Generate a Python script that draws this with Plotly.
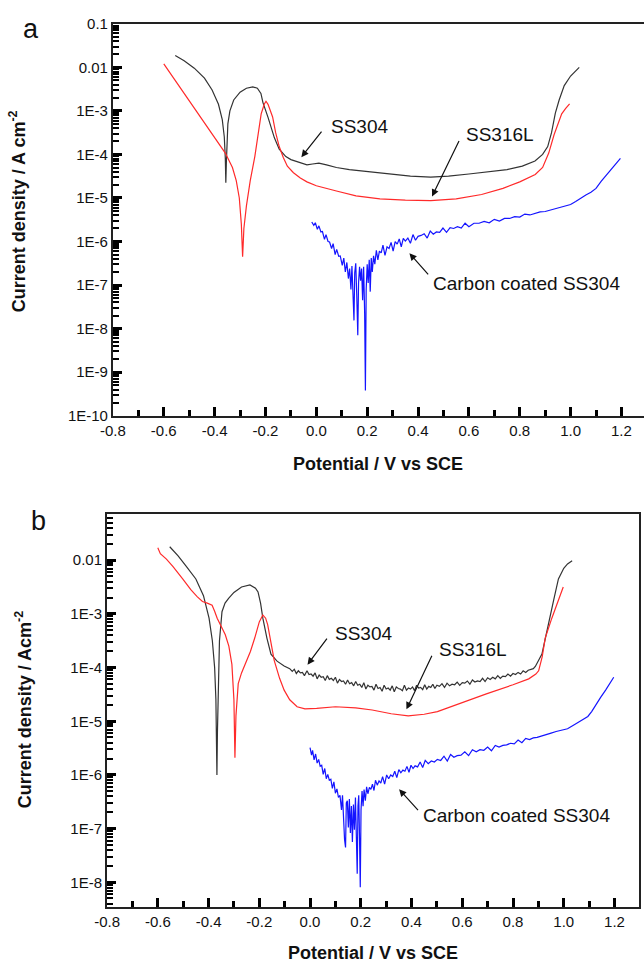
import plotly.graph_objects as go

# ---------------- Panel a : potentiodynamic polarization curves ----------------
# potentials in V vs SCE, current densities stored as log10(A cm^-2)
ss304_a_E = [-0.555, -0.52, -0.48, -0.44, -0.41, -0.385, -0.37, -0.362, -0.358, -0.356,
             -0.354, -0.352, -0.348, -0.34, -0.325, -0.30, -0.275, -0.25, -0.232, -0.218,
             -0.21, -0.19, -0.178, -0.165, -0.146, -0.12, -0.10, -0.063, -0.037, -0.015,
             0.01, 0.04, 0.079, 0.13, 0.22, 0.30, 0.37, 0.45, 0.52, 0.60,
             0.68, 0.75, 0.81, 0.86, 0.89, 0.91, 0.925, 0.94, 0.955, 0.975,
             1.0, 1.034]
ss304_a_logj = [-1.73, -1.85, -2.02, -2.25, -2.52, -2.85, -3.2, -3.6, -4.1, -4.65,
                -4.2, -3.7, -3.3, -3.0, -2.75, -2.57, -2.48, -2.45, -2.48, -2.6,
                -2.81, -3.15, -3.37, -3.62, -3.88, -4.05, -4.12, -4.2, -4.24, -4.22,
                -4.2, -4.24, -4.3, -4.35, -4.4, -4.45, -4.5, -4.52, -4.5, -4.45,
                -4.4, -4.35, -4.27, -4.15, -4.0, -3.82, -3.5, -3.05, -2.75, -2.42,
                -2.2, -2.0]

ss316l_a_E = [-0.60, -0.48, -0.358, -0.33, -0.315, -0.303, -0.295, -0.29, -0.285, -0.275,
              -0.26, -0.242, -0.228, -0.217, -0.205, -0.198, -0.19, -0.172, -0.16, -0.146,
              -0.13, -0.114, -0.09, -0.063, -0.037, 0.0, 0.079, 0.156, 0.25, 0.35,
              0.45, 0.55, 0.65, 0.734, 0.80, 0.861, 0.89, 0.914, 0.935, 0.95,
              0.965, 0.98, 0.996]
ss316l_a_logj = [-1.92, -2.94, -3.97, -4.3, -4.6, -5.0, -5.6, -6.35, -5.7, -5.18,
                 -4.6, -4.05, -3.5, -3.07, -2.85, -2.78, -2.85, -3.14, -3.5, -3.82,
                 -4.07, -4.27, -4.42, -4.54, -4.63, -4.72, -4.84, -4.95, -5.02, -5.05,
                 -5.06, -5.02, -4.92, -4.78, -4.63, -4.46, -4.3, -3.97, -3.55, -3.3,
                 -3.07, -2.95, -2.84]

carbon_a_E = [-0.018, -0.010, -0.004, 0.004, 0.010, 0.018, 0.024, 0.032, 0.038, 0.046,
              0.052, 0.060, 0.066, 0.074, 0.080, 0.088, 0.094, 0.102, 0.108, 0.114,
              0.120, 0.126, 0.131, 0.136, 0.140, 0.144, 0.148, 0.151, 0.155, 0.159,
              0.163, 0.166, 0.170, 0.174, 0.178, 0.182, 0.186, 0.190, 0.193, 0.196,
              0.200, 0.204, 0.208, 0.212, 0.216, 0.220, 0.225, 0.230, 0.236, 0.242,
              0.248, 0.255, 0.262, 0.270, 0.278, 0.286, 0.294, 0.302, 0.310, 0.318,
              0.326, 0.334, 0.342, 0.350, 0.360, 0.370, 0.380, 0.390, 0.400, 0.412,
              0.424, 0.436, 0.448, 0.460, 0.472, 0.485, 0.498, 0.512, 0.526, 0.540,
              0.555, 0.570, 0.585, 0.600, 0.620, 0.640, 0.660, 0.680, 0.700, 0.720,
              0.740, 0.760, 0.780, 0.800, 0.820, 0.840, 0.860, 0.880, 0.900, 0.920,
              0.940, 0.960, 0.980, 1.000, 1.020, 1.040, 1.060, 1.080, 1.100, 1.120,
              1.140, 1.160, 1.180, 1.196]
carbon_a_logj = [-5.55, -5.63, -5.57, -5.72, -5.64, -5.78, -5.77, -5.95, -5.84, -6.00,
                 -6.01, -6.16, -6.05, -6.30, -6.18, -6.34, -6.33, -6.55, -6.38, -6.70,
                 -6.48, -6.85, -6.62, -7.10, -6.56, -7.45, -7.81, -6.72, -6.50, -7.25,
                 -8.15, -6.95, -6.58, -6.90, -6.62, -7.35, -6.58, -7.65, -9.42, -7.10,
                 -6.52, -6.95, -6.42, -7.15, -6.38, -6.70, -6.33, -6.52, -6.20, -6.42,
                 -6.22, -6.26, -6.08, -6.32, -6.12, -6.16, -6.02, -6.22, -6.00, -6.06,
                 -5.94, -6.12, -5.93, -5.99, -5.92, -6.04, -5.84, -5.97, -5.88, -5.86,
                 -5.82, -5.92, -5.76, -5.83, -5.78, -5.79, -5.69, -5.79, -5.68, -5.70,
                 -5.66, -5.69, -5.58, -5.66, -5.58, -5.58, -5.54, -5.57, -5.49, -5.53,
                 -5.47, -5.47, -5.43, -5.44, -5.37, -5.39, -5.35, -5.32, -5.31, -5.28,
                 -5.25, -5.22, -5.19, -5.15, -5.08, -5.00, -4.93, -4.87, -4.78, -4.62,
                 -4.48, -4.33, -4.19, -4.09]

# ---------------- Panel b ----------------
ss304_b_E = [-0.553, -0.52, -0.49, -0.45, -0.42, -0.398, -0.385, -0.376, -0.371, -0.368,
             -0.367, -0.365, -0.362, -0.357, -0.347, -0.335, -0.321, -0.30, -0.27, -0.237,
             -0.215, -0.205, -0.195, -0.186, -0.17, -0.154, -0.13, -0.102,
             -0.08, -0.07, -0.062, -0.054, -0.046, -0.038, -0.030, -0.022, -0.012, -0.004,
             0.004, 0.012, 0.020, 0.028, 0.036, 0.044, 0.052, 0.060, 0.068, 0.076,
             0.084, 0.092, 0.100, 0.108, 0.116, 0.124, 0.132, 0.140, 0.148, 0.156,
             0.164, 0.172, 0.180, 0.188, 0.196, 0.204, 0.212, 0.220, 0.228, 0.236,
             0.244, 0.252, 0.260, 0.268, 0.276, 0.284, 0.292, 0.300, 0.308, 0.316,
             0.324, 0.332, 0.340, 0.348, 0.356, 0.364, 0.372, 0.380, 0.388, 0.396,
             0.404, 0.412, 0.420, 0.428, 0.436, 0.444, 0.452, 0.460, 0.468, 0.476,
             0.484, 0.492, 0.500, 0.510, 0.520, 0.530, 0.540, 0.550, 0.560, 0.570,
             0.580, 0.590, 0.600, 0.610, 0.620, 0.630, 0.640, 0.650, 0.660, 0.670,
             0.680, 0.690, 0.700, 0.710, 0.720, 0.730, 0.740, 0.750, 0.760, 0.770,
             0.780, 0.790, 0.800, 0.810, 0.820, 0.830, 0.840, 0.850, 0.860, 0.870,
             0.880, 0.888, 0.900, 0.914, 0.930, 0.946, 0.960, 0.979, 1.000, 1.015,
             1.033]
ss304_b_logj = [-1.75, -1.92, -2.1, -2.35, -2.66, -3.08, -3.5, -4.0, -4.6, -5.3,
                -6.0, -5.2, -4.2, -3.5, -2.96, -2.8, -2.71, -2.6, -2.5, -2.46,
                -2.52, -2.59, -2.8, -3.08, -3.45, -3.75, -3.88, -3.97,
                -4.02, -4.07, -4.03, -4.11, -4.06, -4.10, -4.09, -4.15, -4.06, -4.13,
                -4.12, -4.16, -4.10, -4.21, -4.14, -4.18, -4.17, -4.24, -4.15, -4.22,
                -4.20, -4.24, -4.18, -4.29, -4.22, -4.26, -4.25, -4.31, -4.23, -4.30,
                -4.28, -4.34, -4.26, -4.33, -4.31, -4.37, -4.28, -4.40, -4.33, -4.36,
                -4.35, -4.42, -4.31, -4.39, -4.37, -4.44, -4.33, -4.40, -4.38, -4.42,
                -4.34, -4.45, -4.36, -4.39, -4.40, -4.43, -4.33, -4.42, -4.38, -4.40,
                -4.36, -4.43, -4.33, -4.38, -4.37, -4.41, -4.32, -4.40, -4.35, -4.37,
                -4.31, -4.39, -4.33, -4.35, -4.30, -4.37, -4.29, -4.34, -4.31, -4.32,
                -4.27, -4.33, -4.28, -4.29, -4.25, -4.31, -4.23, -4.27, -4.25, -4.26,
                -4.20, -4.26, -4.19, -4.22, -4.18, -4.21, -4.15, -4.20, -4.16, -4.17,
                -4.12, -4.16, -4.11, -4.13, -4.09, -4.12, -4.06, -4.09, -4.05, -4.04,
                -4.02, -3.98, -3.88, -3.75, -3.40, -3.08, -2.75, -2.35, -2.15, -2.07,
                -2.01]

ss316l_b_E = [-0.60, -0.59, -0.566, -0.54, -0.502, -0.47, -0.445, -0.424, -0.405, -0.386,
              -0.376, -0.366, -0.345, -0.334, -0.32, -0.308, -0.30, -0.296, -0.292, -0.283,
              -0.27, -0.257, -0.235, -0.218, -0.2, -0.186, -0.175, -0.167, -0.155, -0.141,
              -0.12, -0.102, -0.08, -0.051, -0.02, 0.026, 0.1, 0.18, 0.245, 0.32,
              0.387, 0.45, 0.502, 0.6, 0.695, 0.80, 0.862, 0.89, 0.901, 0.915,
              0.927, 0.953, 0.975, 0.998]
ss316l_b_logj = [-1.77, -1.88, -1.98, -2.12, -2.35, -2.55, -2.68, -2.77, -2.80, -2.84,
                 -2.95, -3.08, -3.28, -3.39, -3.6, -3.94, -4.6, -5.68, -4.9, -4.30,
                 -4.1, -3.94, -3.7, -3.45, -3.15, -3.02, -3.08, -3.2, -3.5, -3.87,
                 -4.2, -4.42, -4.6, -4.73, -4.77, -4.76, -4.73, -4.75, -4.79, -4.86,
                 -4.9, -4.87, -4.82, -4.65, -4.49, -4.32, -4.21, -4.12, -4.06, -3.8,
                 -3.45, -3.08, -2.8, -2.5]

carbon_b_E = [0.000, 0.006, 0.010, 0.016, 0.022, 0.028, 0.034, 0.040, 0.046, 0.052,
              0.058, 0.064, 0.070, 0.076, 0.082, 0.088, 0.094, 0.100, 0.106, 0.112,
              0.118, 0.124, 0.128, 0.132, 0.136, 0.140, 0.143, 0.147, 0.151, 0.155,
              0.159, 0.163, 0.167, 0.171, 0.175, 0.179, 0.183, 0.186, 0.189, 0.192,
              0.195, 0.198, 0.201, 0.205, 0.209, 0.213, 0.218, 0.223, 0.228, 0.234,
              0.240, 0.246, 0.252, 0.258, 0.265, 0.272, 0.279, 0.286, 0.294, 0.302,
              0.310, 0.318, 0.326, 0.334, 0.342, 0.350, 0.358, 0.366, 0.374, 0.382,
              0.390, 0.398, 0.406, 0.414, 0.424, 0.434, 0.444, 0.454, 0.466, 0.478,
              0.490, 0.502, 0.515, 0.528, 0.541, 0.554, 0.567, 0.580, 0.595, 0.610,
              0.625, 0.640, 0.655, 0.670, 0.685, 0.700, 0.715, 0.730, 0.745, 0.760,
              0.775, 0.790, 0.805, 0.820, 0.835, 0.850, 0.865, 0.880, 0.895, 0.910,
              0.930, 0.950, 0.970, 0.990, 1.015, 1.043, 1.070, 1.095, 1.110, 1.125,
              1.146, 1.165, 1.180, 1.197]
carbon_b_logj = [-5.49, -5.63, -5.54, -5.72, -5.61, -5.78, -5.71, -5.84, -5.82, -5.99,
                 -5.88, -6.07, -5.99, -6.10, -6.08, -6.25, -6.13, -6.34, -6.26, -6.42,
                 -6.38, -6.65, -6.38, -6.92, -7.20, -7.35, -6.52, -6.48, -6.98, -6.45,
                 -7.08, -6.58, -7.25, -6.55, -7.02, -6.42, -7.30, -7.84, -6.58, -6.38,
                 -7.15, -8.09, -6.65, -6.30, -6.58, -6.27, -6.48, -6.22, -6.35, -6.23,
                 -6.27, -6.17, -6.29, -6.10, -6.19, -6.11, -6.15, -6.03, -6.17, -6.00,
                 -6.07, -6.00, -6.03, -5.93, -6.05, -5.90, -5.96, -5.91, -5.93, -5.84,
                 -5.95, -5.82, -5.88, -5.83, -5.85, -5.76, -5.86, -5.73, -5.79, -5.74,
                 -5.76, -5.71, -5.73, -5.65, -5.74, -5.62, -5.67, -5.64, -5.63, -5.57,
                 -5.64, -5.53, -5.57, -5.53, -5.54, -5.48, -5.55, -5.45, -5.48, -5.45,
                 -5.44, -5.41, -5.42, -5.35, -5.40, -5.32, -5.34, -5.31, -5.30, -5.28,
                 -5.26, -5.22, -5.19, -5.17, -5.14, -5.06, -4.98, -4.91, -4.82, -4.70,
                 -4.55, -4.42, -4.30, -4.18]

# axis tick labels
x_tick_vals = [-0.8, -0.6, -0.4, -0.2, 0.0, 0.2, 0.4, 0.6, 0.8, 1.0, 1.2]
x_tick_text = ["-0.8", "-0.6", "-0.4", "-0.2", "0.0", "0.2", "0.4", "0.6", "0.8", "1.0", "1.2"]
x_minor_vals = [-0.7, -0.5, -0.3, -0.1, 0.1, 0.3, 0.5, 0.7, 0.9, 1.1]
y_tick_vals_a = [1e-10, 1e-9, 1e-8, 1e-7, 1e-6, 1e-5, 1e-4, 1e-3, 1e-2, 1e-1]
y_tick_text_a = ["1E-10", "1E-9", "1E-8", "1E-7", "1E-6", "1E-5", "1E-4", "1E-3", "0.01", "0.1"]
y_tick_vals_b = [1e-8, 1e-7, 1e-6, 1e-5, 1e-4, 1e-3, 1e-2]
y_tick_text_b = ["1E-8", "1E-7", "1E-6", "1E-5", "1E-4", "1E-3", "0.01"]

BLACK = "#333333"
RED = "#ff2a2a"
BLUE = "#1414ff"
AXIS = "#222222"
TICK = "#000000"
FONT = "Liberation Sans, Arial, sans-serif"
W, H = 644, 973


def to_j(logs):
    return [10 ** v for v in logs]


def minor_log_ticks(lo, hi):
    return [m * 10.0 ** e for e in range(lo, hi) for m in range(2, 10)]


fig = go.Figure()
curves = [
    (ss304_a_E, ss304_a_logj, BLACK, "x", "y"),
    (ss316l_a_E, ss316l_a_logj, RED, "x", "y"),
    (carbon_a_E, carbon_a_logj, BLUE, "x", "y"),
    (ss304_b_E, ss304_b_logj, BLACK, "x2", "y2"),
    (ss316l_b_E, ss316l_b_logj, RED, "x2", "y2"),
    (carbon_b_E, carbon_b_logj, BLUE, "x2", "y2"),
]
for E, lj, col, xa, ya in curves:
    fig.add_trace(go.Scatter(x=E, y=to_j(lj), mode="lines", xaxis=xa, yaxis=ya,
                             line=dict(color=col, width=1.2), showlegend=False,
                             hoverinfo="skip"))

# empty traces so the overlaid tick-only axes get drawn
for xa, ya in (("x3", "y3"), ("x4", "y4")):
    fig.add_trace(go.Scatter(x=[], y=[], mode="lines", xaxis=xa, yaxis=ya,
                             showlegend=False, hoverinfo="skip"))

TICKFONT = dict(family=FONT, size=15, color="#111")


def xaxis_cfg(domain, rng, anchor):
    return dict(domain=domain, range=rng, anchor=anchor, tickmode="array",
                tickvals=x_tick_vals, ticktext=x_tick_text, ticks="inside",
                ticklen=9, tickwidth=2.5, tickcolor=TICK, showline=True,
                linecolor=AXIS, linewidth=2, mirror=True, showgrid=False,
                zeroline=False, tickfont=TICKFONT, layer="above traces")


def yaxis_cfg(domain, rng, anchor, vals, text, mirror):
    return dict(domain=domain, range=rng, anchor=anchor, type="log", tickmode="array",
                tickvals=vals, ticktext=text, ticks="inside", ticklen=9, tickwidth=2.5,
                tickcolor=TICK, showline=True, linecolor=AXIS, linewidth=2,
                mirror=mirror, showgrid=False, zeroline=False, tickfont=TICKFONT,
                layer="above traces")


# short unlabeled ticks drawn by overlaid axes
def x_minor_cfg(domain, rng, anchor, over):
    return dict(domain=domain, range=rng, anchor=anchor, overlaying=over, side="bottom",
                tickmode="array", tickvals=x_minor_vals, ticks="inside", ticklen=6,
                tickwidth=2.5, tickcolor=TICK, showticklabels=False, showline=False,
                showgrid=False, zeroline=False)


def y_minor_cfg(domain, rng, anchor, over, lo, hi):
    return dict(domain=domain, range=rng, anchor=anchor, overlaying=over, side="left",
                type="log", tickmode="array", tickvals=minor_log_ticks(lo, hi),
                ticks="inside", ticklen=6, tickwidth=2, tickcolor=TICK,
                showticklabels=False, showline=False, showgrid=False, zeroline=False)


dom_xa, dom_ya = [102 / W, 1.0], [1 - 414 / H, 1 - 15 / H]
dom_xb, dom_yb = [96 / W, 639 / W], [1 - 914 / H, 1 - 514 / H]
rng_xa, rng_ya = [-0.8, 1.2887], [-10, -1]
rng_xb, rng_yb = [-0.8, 1.297], [-8.46, -1.14]

fig.update_layout(
    width=W, height=H, margin=dict(l=0, r=0, t=0, b=0),
    paper_bgcolor="white", plot_bgcolor="white",
    xaxis=xaxis_cfg(dom_xa, rng_xa, "y"),
    yaxis=yaxis_cfg(dom_ya, rng_ya, "x", y_tick_vals_a, y_tick_text_a, False),
    xaxis2=xaxis_cfg(dom_xb, rng_xb, "y2"),
    yaxis2=yaxis_cfg(dom_yb, rng_yb, "x2", y_tick_vals_b, y_tick_text_b, True),
    xaxis3=x_minor_cfg(dom_xa, rng_xa, "y3", "x"),
    yaxis3=y_minor_cfg(dom_ya, rng_ya, "x3", "y", -10, -1),
    xaxis4=x_minor_cfg(dom_xb, rng_xb, "y4", "x2"),
    yaxis4=y_minor_cfg(dom_yb, rng_yb, "x4", "y2", -9, -1),
)

ann = []


def paper_text(px, py, text, size, bold=False, angle=0):
    ann.append(dict(x=px / W, y=1 - py / H, xref="paper", yref="paper",
                    text=f"<b>{text}</b>" if bold else text, showarrow=False,
                    textangle=angle, xanchor="center", yanchor="middle",
                    font=dict(family=FONT, size=size, color="#111")))


# panel letters
paper_text(18, 20, "a", 27)
paper_text(26, 521, "b", 27)
# axis titles
paper_text(373, 463, "Potential / V vs SCE", 18, bold=True)
paper_text(367, 961, "Potential / V vs SCE", 18, bold=True)
paper_text(5, 206, "Current density / A cm<sup>-2</sup>", 18, bold=True, angle=-90)
paper_text(11, 713, "Current density / Acm<sup>-2</sup>", 18, bold=True, angle=-90)


def label(xr, yr, x, logy, text):
    ann.append(dict(x=x, y=logy, xref=xr, yref=yr, text=text, showarrow=False,
                    xanchor="left", yanchor="middle",
                    font=dict(family=FONT, size=19, color="#111")))


def arrow(xr, yr, hx, hlog, tx, tlog):
    ann.append(dict(x=hx, y=hlog, ax=tx, ay=tlog, xref=xr, yref=yr, axref=xr, ayref=yr,
                    text="", showarrow=True, arrowhead=2, arrowsize=1.2, arrowwidth=1.2,
                    arrowcolor="#111"))


# panel a labels (y positions in log10 units)
label("x", "y", 0.048, -3.35, "SS304")
arrow("x", "y", -0.059, -4.063, 0.025, -3.44)
label("x", "y", 0.580, -3.55, "SS316L")
arrow("x", "y", 0.455, -4.966, 0.564, -3.66)
label("x", "y", 0.452, -6.96, "Carbon coated SS304")
arrow("x", "y", 0.366, -6.27, 0.445, -6.79)

# panel b labels
label("x2", "y2", 0.092, -3.374, "SS304")
arrow("x2", "y2", -0.010, -3.947, 0.071, -3.434)
label("x2", "y2", 0.501, -3.667, "SS316L")
arrow("x2", "y2", 0.380, -4.778, 0.483, -3.753)
label("x2", "y2", 0.439, -6.762, "Carbon coated SS304")
arrow("x2", "y2", 0.351, -6.267, 0.431, -6.683)

fig.update_layout(annotations=ann)
fig.write_html("out.html")
